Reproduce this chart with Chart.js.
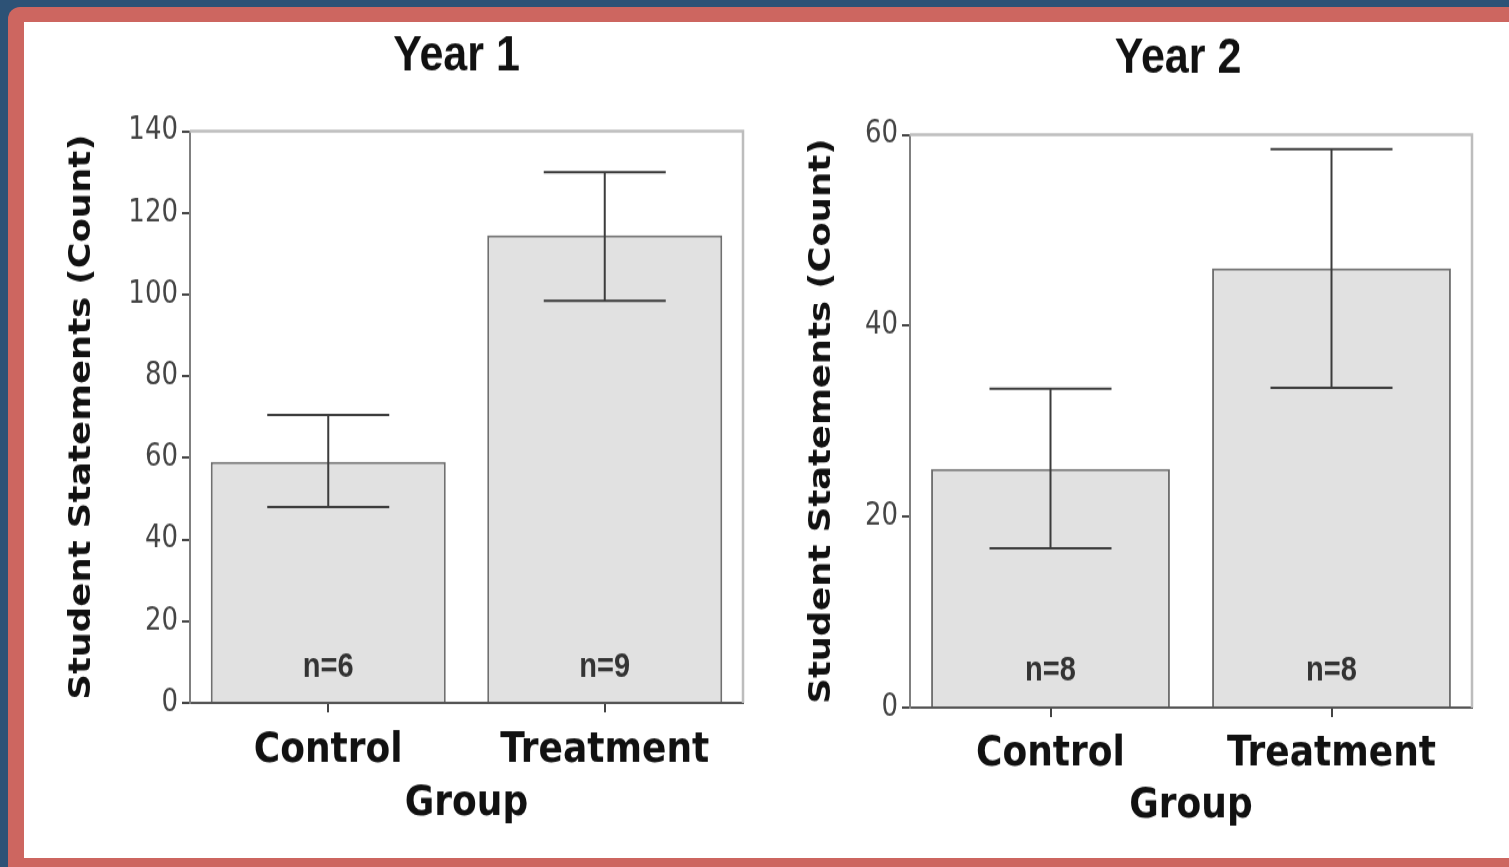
<!DOCTYPE html>
<html>
<head>
<meta charset="utf-8">
<script src="https://cdn.jsdelivr.net/npm/chart.js@4.4.1/dist/chart.umd.min.js"></script>
<style>
  html, body { margin: 0; padding: 0; }
  body { width: 1509px; height: 867px; background: #2d5276; position: relative; overflow: hidden; }
  #frame { position: absolute; left: 8px; top: 7px; width: 1520px; height: 880px; background: #cd6660; border-top-left-radius: 12px; }
  #panel { position: absolute; left: 24px; top: 22px; width: 1485px; height: 836px; background: #fff; }
  .wrap { position: absolute; top: 22px; height: 708px; transform: scaleY(1.18); transform-origin: 0 0; }
  #w1 { left: 24px; width: 736px; }
  #w2 { left: 760px; width: 749px; }
</style>
</head>
<body>
<div id="frame"></div>
<div id="panel"></div>
<div class="wrap" id="w1"><canvas id="chart1" width="736" height="708"></canvas></div>
<div class="wrap" id="w2"><canvas id="chart2" width="749" height="708"></canvas></div>
<script>
// =================== DATA ===================
const groups = ["Control", "Treatment"];

const year1Means = [59, 114.5];
const year1Lower = [48, 98.5];
const year1Upper = [70.5, 130];
const year1N = ["n=6", "n=9"];
const year1Ticks = { max: 140, step: 20 };

const year2Means = [25, 46];
const year2Lower = [16.7, 33.5];
const year2Upper = [33.4, 58.5];
const year2N = ["n=8", "n=8"];
const year2Ticks = { max: 60, step: 20 };

// =================== PLUGINS ===================
// frame line on top and right of plot area
const plotFrame = {
  id: "plotFrame",
  afterLayout(chart, args, opts) {
    // title sits a little left of the plot centre in the original
    if (chart.titleBlock) {
      chart.titleBlock.left -= opts.titleShift;
      chart.titleBlock.right -= opts.titleShift;
    }
  },
  beforeDatasetsDraw(chart) {
    const a = chart.chartArea, ctx = chart.ctx;
    ctx.save();
    ctx.strokeStyle = "#bdbdbd";
    ctx.lineWidth = 2.5;
    ctx.beginPath();
    ctx.moveTo(a.left, a.top);
    ctx.lineTo(a.right, a.top);
    ctx.lineTo(a.right, a.bottom);
    ctx.stroke();
    ctx.restore();
  }
};

// error bars + n labels
const errorBars = {
  id: "errorBars",
  afterDatasetsDraw(chart, args, opts) {
    const ctx = chart.ctx, y = chart.scales.y;
    const bars = chart.getDatasetMeta(0).data;
    ctx.save();
    bars.forEach((b, i) => {
      const lo = y.getPixelForValue(opts.lower[i]);
      const hi = y.getPixelForValue(opts.upper[i]);
      ctx.strokeStyle = "#3c3c3c";
      ctx.lineWidth = 2;
      ctx.beginPath();
      ctx.moveTo(b.x, lo); ctx.lineTo(b.x, hi);
      ctx.moveTo(b.x - opts.cap, lo); ctx.lineTo(b.x + opts.cap, lo);
      ctx.moveTo(b.x - opts.cap, hi); ctx.lineTo(b.x + opts.cap, hi);
      ctx.stroke();

      ctx.fillStyle = "#333";
      ctx.font = "bold 29px 'Liberation Sans', Arial, sans-serif";
      ctx.textAlign = "center";
      ctx.textBaseline = "middle";
      ctx.fillText(opts.n[i], b.x, y.bottom - opts.nOffset);
    });
    ctx.restore();
  }
};

// =================== CHART BUILDER ===================
function makeChart(id, cfg) {
  return new Chart(document.getElementById(id), {
    type: "bar",
    data: {
      labels: groups,
      datasets: [{
        data: cfg.means,
        backgroundColor: "#e1e1e1",
        borderColor: "#707070",
        borderWidth: { top: 2, left: 2, right: 2, bottom: 0 },
        borderSkipped: false,
        categoryPercentage: 0.85,
        barPercentage: 1
      }]
    },
    plugins: [plotFrame, errorBars],
    options: {
      responsive: false,
      animation: false,
      layout: { padding: cfg.padding },
      plugins: {
        legend: { display: false },
        tooltip: { enabled: false },
        title: {
          display: true,
          text: cfg.title,
          fullSize: false,
          color: "#111",
          font: { family: "'Liberation Sans', Arial, sans-serif", size: 43, weight: "bold" },
          padding: cfg.titlePad
        },
        plotFrame: { titleShift: cfg.titleShift },
        errorBars: { lower: cfg.lower, upper: cfg.upper, n: cfg.n, cap: 61, nOffset: cfg.nOffset }
      },
      scales: {
        x: {
          afterFit(s) { s.height = cfg.xHeight; },
          grid: { offset: false, drawOnChartArea: false, tickLength: 8, color: "#444", lineWidth: 2 },
          border: { color: "#555", width: 2 },
          ticks: {
            color: "#111",
            padding: cfg.xPad,
            font: { family: "'DejaVu Sans', Verdana, sans-serif", size: 36, weight: "bold" }
          },
          title: {
            display: true,
            text: "Group",
            color: "#111",
            font: { family: "'DejaVu Sans', Verdana, sans-serif", size: 36, weight: "bold" }
          }
        },
        y: {
          min: 0,
          max: cfg.ticks.max,
          afterFit(s) { s.width = cfg.yWidth; },
          grid: { drawOnChartArea: false, tickLength: 8, color: "#444", lineWidth: 2 },
          border: { color: "#808080", width: 2 },
          ticks: {
            stepSize: cfg.ticks.step,
            color: "#444",
            padding: 4,
            font: { family: "'DejaVu Sans', Verdana, sans-serif", size: 26 }
          },
          title: {
            display: true,
            text: "Student Statements (Count)",
            color: "#111",
            font: { family: "'DejaVu Sans', Verdana, sans-serif", size: 30, weight: "bold" }
          }
        }
      }
    }
  });
}

makeChart("chart1", {
  title: "Year 1",
  means: year1Means, lower: year1Lower, upper: year1Upper, n: year1N, ticks: year1Ticks,
  padding: { left: 36, right: 17, top: 0, bottom: 20 },
  titlePad: { top: 3, bottom: 38 },
  titleShift: 10,
  xHeight: 111, xPad: 11, yWidth: 130, nOffset: 30
});

makeChart("chart2", {
  title: "Year 2",
  means: year2Means, lower: year2Lower, upper: year2Upper, n: year2N, ticks: year2Ticks,
  padding: { left: 40, right: 37, top: 0, bottom: 18 },
  titlePad: { top: 5, bottom: 39 },
  titleShift: 13,
  xHeight: 109, xPad: 10, yWidth: 110, nOffset: 31
});
</script>
</body>
</html>
